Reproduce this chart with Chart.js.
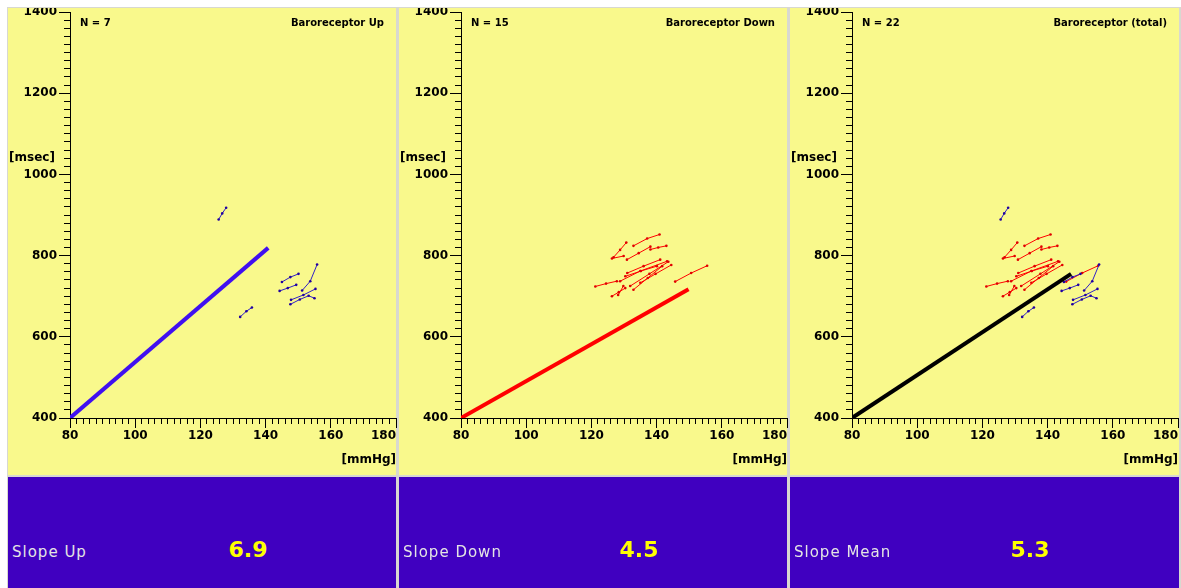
<!DOCTYPE html>
<html>
<head>
<meta charset="utf-8">
<script src="https://cdn.jsdelivr.net/npm/chart.js@4.4.1/dist/chart.umd.min.js"></script>
<style>
    html, body { margin: 0; padding: 0; background: #fff; }
    #stage { position: relative; width: 1181px; height: 588px; overflow: hidden; background: #fff; }
    .frame { position: absolute; left: 7px; top: 7px; right: 0; bottom: 0; background: #d8d8d0; }
    .plot { position: absolute; top: 8px; height: 467px; background: #f9f98c; font-family: 'DejaVu Sans'; }
    .plot canvas { position: absolute; left: 0; top: 0; }
    .plot .count, .plot .name { position: absolute; top: 9px; font: bold 10px/12px 'DejaVu Sans'; color: #000; white-space: nowrap; }
    .plot .count { left: 72px; }
    .plot .name { right: 12px; }
    .plot .unit { position: absolute; left: 1px; top: 142px; font: bold 12px/14px 'DejaVu Sans'; color: #000; }
    .info { position: absolute; top: 477px; height: 111px; background: #4000c0; }
    .info .label { position: absolute; left: 4px; top: 66px; font: 15px/18px 'DejaVu Sans'; letter-spacing: 1px; color: #e4e4e4; white-space: nowrap; }
    .info .value { position: absolute; left: 190px; width: 100px; top: 60px; text-align: center; font: bold 22px/26px 'DejaVu Sans'; color: #ffff00; }
</style>
</head>
<body>
<div id="stage"><div class="frame"></div></div>
<script>
// Panel texts
const panelTitles = ['Baroreceptor Up', 'Baroreceptor Down', 'Baroreceptor (total)'];
const panelCounts = [7, 15, 22];
const slopeLabels = ['Slope Up', 'Slope Down', 'Slope Mean'];
const slopeValues = ['6.9', '4.5', '5.3'];

// Axis ranges [mmHg] / [msec]
const xRange = [80, 180];
const yRange = [400, 1400];

// Sequences with rising pressure (blue), [mmHg, msec]
const upSegments = [
    [[125.6, 889], [126.7, 904], [127.9, 918]],
    [[132.2, 649], [134.1, 663], [135.8, 672]],
    [[145.0, 735], [147.6, 747], [150.1, 755]],
    [[144.3, 713], [146.8, 720], [149.4, 728]],
    [[151.2, 714], [153.7, 737], [155.8, 778]],
    [[147.8, 691], [151.6, 703], [155.3, 718]],
    [[147.6, 680], [150.5, 692], [153.2, 701], [155.0, 695]],
];

// Sequences with falling pressure (red)
const downSegments = [
    [[126.8, 796], [128.8, 814], [130.7, 832]],
    [[126.3, 793], [129.9, 799]],
    [[132.9, 824], [137.1, 842], [140.9, 852]],
    [[130.9, 790], [134.5, 806], [138.1, 822]],
    [[138.1, 815], [140.5, 820], [143.0, 824]],
    [[121.2, 724], [124.5, 731], [127.8, 737]],
    [[128.8, 737], [135.0, 762], [143.2, 786]],
    [[130.4, 749], [135.2, 762], [140.1, 774]],
    [[132.9, 716], [137.3, 745], [141.7, 774]],
    [[131.9, 725], [137.8, 755], [143.6, 785]],
    [[126.3, 700], [128.4, 710], [130.4, 720]],
    [[128.2, 703], [129.8, 725]],
    [[145.7, 736], [150.6, 757], [155.5, 775]],
    [[131.0, 757], [136.0, 774], [141.1, 790]],
    [[135.0, 733], [139.7, 755], [144.5, 777]],
];

// Regression lines
const upFit = [[80, 400], [140.8, 819]];
const downFit = [[80, 400], [149.8, 717]];
const meanFit = [[80, 400], [147.2, 755]];

const panelLefts = [8, 399, 790];
const panelWidths = [388, 388, 389];

const BLUE = { line: '#3020c8', dot: '#2000a0' };
const RED = { line: '#ff0000', dot: '#e00000' };

Chart.defaults.font.family = "'DejaVu Sans'";

const toXY = pts => pts.map(([x, y]) => ({ x, y }));

// last x label is pushed inside the panel (right aligned), like the original
const lastLabelRight = {
    id: 'lastLabelRight',
    beforeDraw(chart) {
        const items = chart.scales.x.getLabelItems();
        if (items.length) items[items.length - 1].options.textAlign = 'right';
    }
};

function makeChart(canvas, groups, fit, fitColor) {
    const datasets = [{
        data: toXY(fit),
        showLine: true,
        borderColor: fitColor,
        borderWidth: 4,
        pointRadius: 0,
    }];
    groups.forEach(g => {
        g.segs.forEach(seg => {
            datasets.push({
                data: toXY(seg),
                showLine: true,
                borderColor: g.color.line,
                borderWidth: 1,
                pointRadius: 1.3,
                pointBorderWidth: 0,
                pointBackgroundColor: g.color.dot,
            });
        });
    });

    const tickFont = { size: 12, weight: 'bold' };

    return new Chart(canvas.getContext('2d'), {
        type: 'scatter',
        data: { datasets },
        options: {
            responsive: false,
            animation: false,
            devicePixelRatio: 1,
            layout: { padding: { top: 4, left: 0, right: 0, bottom: 0 } },
            plugins: {
                legend: { display: false },
                tooltip: { enabled: false },
            },
            scales: {
                x: {
                    type: 'linear',
                    position: 'bottom',
                    min: xRange[0],
                    max: xRange[1],
                    ticks: {
                        stepSize: 2,
                        autoSkip: false,
                        maxRotation: 0,
                        color: '#000',
                        padding: 1,
                        font: tickFont,
                        callback: v => v % 20 === 0 ? v : '',
                    },
                    grid: {
                        drawOnChartArea: false,
                        drawTicks: true,
                        tickLength: 10,
                        tickColor: '#000',
                        tickWidth: 1,
                        tickBorderDash: c => (c.tick && c.tick.value % 20 === 0) ? [] : [5, 20],
                    },
                    border: { display: true, color: '#000', width: 1 },
                    title: {
                        display: true,
                        text: '[mmHg]',
                        align: 'end',
                        color: '#000',
                        font: tickFont,
                        padding: { top: 0, bottom: 8 },
                    },
                    afterFit: s => { s.height = 57; s.paddingLeft = 0; s.paddingRight = 0; },
                },
                y: {
                    type: 'linear',
                    min: yRange[0],
                    max: yRange[1],
                    ticks: {
                        stepSize: 20,
                        autoSkip: false,
                        color: '#000',
                        padding: 2,
                        font: tickFont,
                        callback: v => v % 200 === 0 ? v : '',
                    },
                    grid: {
                        drawOnChartArea: false,
                        drawTicks: true,
                        tickLength: 11,
                        tickColor: '#000',
                        tickWidth: 1,
                        tickBorderDash: c => (c.tick && c.tick.value % 200 === 0) ? [] : [0, 5, 6, 50],
                    },
                    border: { display: true, color: '#000', width: 1 },
                    afterFit: s => { s.width = 62; s.paddingTop = 0; s.paddingBottom = 0; },
                }
            }
        },
        plugins: [lastLabelRight]
    });
}

const stage = document.getElementById('stage');
const panelGroups = [
    [{ segs: upSegments, color: BLUE }],
    [{ segs: downSegments, color: RED }],
    [{ segs: upSegments, color: BLUE }, { segs: downSegments, color: RED }],
];
const panelFits = [upFit, downFit, meanFit];
const fitColors = ['#4010f0', '#ff0000', '#000000'];

panelTitles.forEach((title, i) => {
    const plot = document.createElement('div');
    plot.className = 'plot';
    plot.style.left = panelLefts[i] + 'px';
    plot.style.width = panelWidths[i] + 'px';

    // the library keeps a 4px gap on the right, so the canvas overhangs the panel by that much
    const canvas = document.createElement('canvas');
    canvas.width = 392;
    canvas.height = 467;
    canvas.style.width = '392px';
    canvas.style.height = '467px';
    plot.appendChild(canvas);

    const count = document.createElement('div');
    count.className = 'count';
    count.textContent = 'N = ' + panelCounts[i];
    plot.appendChild(count);

    const name = document.createElement('div');
    name.className = 'name';
    name.textContent = title;
    plot.appendChild(name);

    const unit = document.createElement('div');
    unit.className = 'unit';
    unit.textContent = '[msec]';
    plot.appendChild(unit);

    stage.appendChild(plot);

    const info = document.createElement('div');
    info.className = 'info';
    info.style.left = panelLefts[i] + 'px';
    info.style.width = panelWidths[i] + 'px';
    info.innerHTML = '<div class="label"></div><div class="value"></div>';
    info.querySelector('.label').textContent = slopeLabels[i];
    info.querySelector('.value').textContent = slopeValues[i];
    stage.appendChild(info);

    makeChart(canvas, panelGroups[i], panelFits[i], fitColors[i]);
});
</script>
</body>
</html>
